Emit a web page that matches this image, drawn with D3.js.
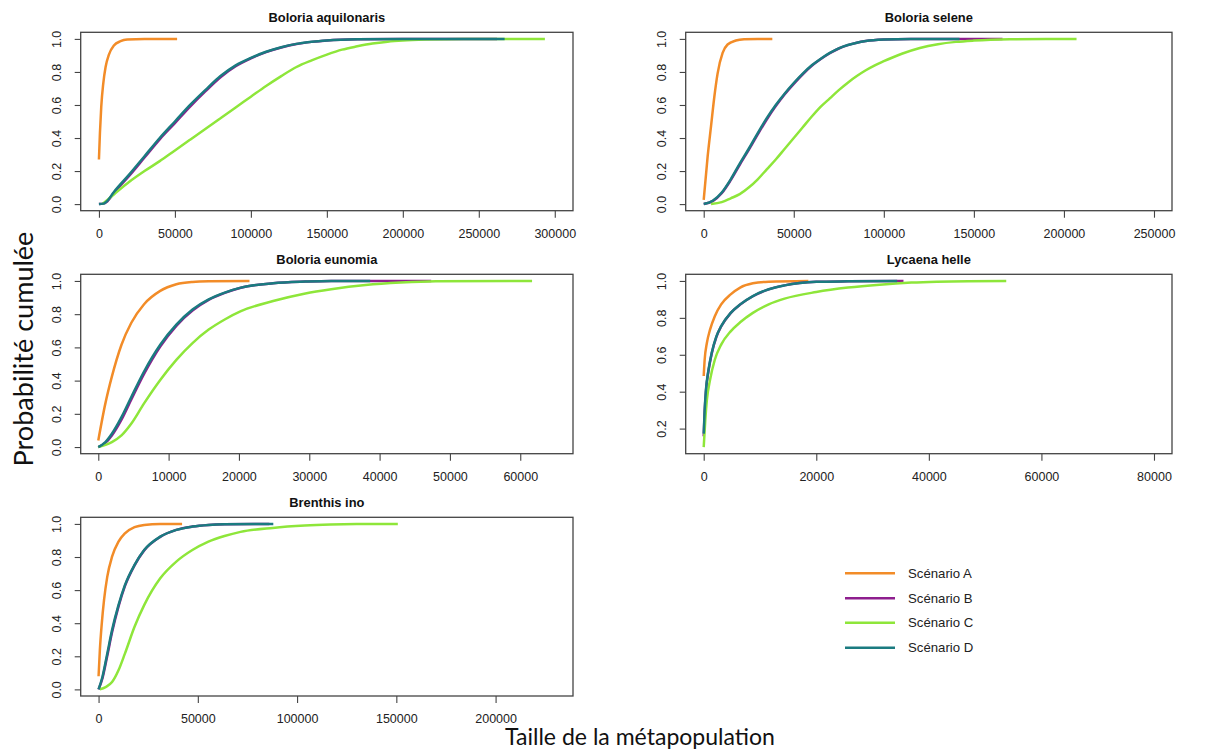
<!DOCTYPE html>
<html><head><meta charset="utf-8">
<script src="https://cdn.jsdelivr.net/npm/d3@7"></script>
<style>body{margin:0;background:#fff}</style>
</head><body><svg id="c" width="1206" height="756"></svg>
<script>
// ---------- data ----------
const species = ["Boloria aquilonaris","Boloria selene","Boloria eunomia","Lycaena helle","Brenthis ino"];
const scenarios = ["Scénario A","Scénario B","Scénario C","Scénario D"];

const xTicks_aquilonaris = [0,50000,100000,150000,200000,250000,300000];
const xTicks_selene = [0,50000,100000,150000,200000,250000];
const xTicks_eunomia = [0,10000,20000,30000,40000,50000,60000];
const xTicks_helle = [0,20000,40000,60000,80000];
const xTicks_ino = [0,50000,100000,150000,200000];
const yTicks_full = [0.0,0.2,0.4,0.6,0.8,1.0];
const yTicks_helle = [0.2,0.4,0.6,0.8,1.0];

// Boloria aquilonaris  [taille, probabilité cumulée]
const aquilonaris_A = [[0,0.27],[657,0.43],[1530,0.59],[2850,0.73],[4380,0.83],[6570,0.905],[9850,0.96],[14230,0.986],[18600,0.996],[30000,1.0],[51450,1.0]];
const aquilonaris_B = [[0,0],[3000,0.003],[5000,0.013],[10000,0.07],[20000,0.172],[30000,0.282],[40000,0.392],[50000,0.49],[60000,0.59],[70000,0.682],[80000,0.768],[90000,0.835],[100000,0.882],[110000,0.92],[120000,0.948],[130000,0.969],[140000,0.982],[150000,0.991],[170000,0.998],[200000,1.0],[262000,1.0]];
const aquilonaris_C = [[2200,0],[10000,0.06],[20000,0.135],[30000,0.2],[40000,0.26],[50000,0.325],[60000,0.39],[70000,0.455],[80000,0.52],[90000,0.585],[100000,0.65],[110000,0.715],[120000,0.775],[130000,0.83],[140000,0.87],[150000,0.905],[160000,0.935],[170000,0.955],[180000,0.972],[190000,0.983],[200000,0.99],[215000,0.996],[240000,1.0],[293500,1.0]];
const aquilonaris_D = [[0,0],[3000,0.003],[5000,0.015],[10000,0.075],[20000,0.18],[30000,0.29],[40000,0.4],[50000,0.5],[60000,0.6],[70000,0.69],[80000,0.775],[90000,0.84],[100000,0.885],[110000,0.922],[120000,0.95],[130000,0.97],[140000,0.983],[150000,0.991],[170000,0.998],[200000,1.0],[267000,1.0]];

// Boloria selene
const selene_A = [[0,0.026],[2200,0.29],[4050,0.47],[5900,0.65],[7700,0.79],[10500,0.915],[13250,0.966],[17850,0.99],[22400,0.998],[30000,1.0],[38100,1.0]];
const selene_B = [[0,0],[5000,0.018],[10000,0.066],[15000,0.145],[20000,0.238],[25000,0.328],[30000,0.422],[35000,0.512],[40000,0.593],[45000,0.665],[50000,0.728],[55000,0.786],[60000,0.837],[65000,0.878],[70000,0.913],[75000,0.942],[80000,0.962],[85000,0.977],[90000,0.987],[100000,0.996],[115000,1.0],[165900,1.0]];
const selene_C = [[4050,0],[10000,0.012],[15000,0.035],[20000,0.06],[25000,0.1],[30000,0.15],[35000,0.21],[40000,0.27],[45000,0.335],[50000,0.4],[55000,0.465],[60000,0.53],[65000,0.59],[70000,0.64],[75000,0.69],[80000,0.735],[85000,0.775],[90000,0.81],[95000,0.84],[100000,0.865],[110000,0.91],[120000,0.945],[130000,0.968],[140000,0.982],[150000,0.99],[170000,0.998],[190000,1.0],[207000,1.0]];
const selene_D = [[0,0],[5000,0.02],[10000,0.07],[15000,0.15],[20000,0.245],[25000,0.335],[30000,0.43],[35000,0.52],[40000,0.6],[45000,0.67],[50000,0.733],[55000,0.79],[60000,0.84],[65000,0.88],[70000,0.915],[75000,0.943],[80000,0.963],[85000,0.977],[90000,0.987],[100000,0.996],[115000,1.0],[142000,1.0]];

// Boloria eunomia
const eunomia_A = [[0,0.04],[1010,0.263],[1930,0.424],[3300,0.616],[4680,0.747],[6510,0.86],[8810,0.94],[11100,0.98],[13400,0.994],[15700,0.998],[21500,1.0]];
const eunomia_B = [[0,0],[1010,0.025],[1930,0.07],[3300,0.165],[4680,0.285],[6510,0.44],[8810,0.605],[11100,0.73],[13400,0.822],[15700,0.886],[17980,0.928],[20280,0.959],[24860,0.986],[29450,0.996],[33120,1.0],[47340,1.0]];
const eunomia_C = [[0,0],[1930,0.03],[3300,0.07],[4680,0.14],[6510,0.263],[8810,0.404],[11100,0.525],[13400,0.626],[15700,0.707],[17980,0.768],[20280,0.818],[24860,0.879],[29450,0.925],[33120,0.95],[38000,0.975],[43000,0.99],[48000,0.998],[61680,1.0]];
const eunomia_D = [[0,0],[1010,0.03],[1930,0.08],[3300,0.18],[4680,0.30],[6510,0.455],[8810,0.616],[11100,0.737],[13400,0.828],[15700,0.889],[17980,0.93],[20280,0.96],[24860,0.986],[29450,0.996],[33120,1.0],[38660,1.0]];

// Lycaena helle
const helle_A = [[0,0.485],[169,0.573],[563,0.664],[1127,0.736],[1972,0.809],[3099,0.873],[4789,0.927],[6479,0.964],[8732,0.987],[11549,0.996],[18592,1.0]];
const helle_B = [[0,0.158],[169,0.29],[394,0.4],[845,0.512],[1408,0.604],[2254,0.697],[3099,0.753],[4789,0.826],[6479,0.872],[8732,0.917],[11549,0.954],[14366,0.976],[20000,0.995],[25634,0.998],[35493,1.0]];
const helle_C = [[0,0.1],[282,0.245],[563,0.355],[1127,0.464],[1972,0.573],[3099,0.655],[4789,0.727],[6479,0.776],[8732,0.827],[11549,0.873],[14366,0.904],[20000,0.94],[25634,0.964],[31268,0.98],[36901,0.991],[41408,0.996],[47000,0.999],[53750,1.0]];
const helle_D = [[0,0.173],[169,0.3],[394,0.409],[845,0.518],[1408,0.609],[2254,0.7],[3099,0.755],[4789,0.827],[6479,0.873],[8732,0.918],[11549,0.955],[14366,0.976],[20000,0.995],[25634,0.998],[34366,1.0]];

// Brenthis ino
const ino_A = [[0,0.079],[647,0.236],[1618,0.398],[2751,0.539],[4369,0.68],[6796,0.802],[10032,0.893],[13269,0.943],[18123,0.98],[22977,0.994],[31068,1.0],[42071,1.0]];
const ino_B = [[0,0],[1942,0.066],[4369,0.202],[6796,0.345],[10032,0.5],[13269,0.624],[18123,0.75],[22977,0.84],[31068,0.922],[39159,0.964],[47249,0.984],[55340,0.994],[63430,0.998],[86000,1.0]];
const ino_C = [[600,0],[3560,0.014],[6796,0.044],[10032,0.115],[13269,0.216],[18123,0.378],[22977,0.509],[31068,0.671],[39159,0.772],[47249,0.842],[55340,0.893],[63430,0.927],[71521,0.952],[87702,0.976],[103883,0.99],[116828,0.996],[130000,0.999],[150750,1.0]];
const ino_D = [[0,0],[1942,0.075],[4369,0.216],[6796,0.358],[10032,0.509],[13269,0.63],[18123,0.752],[22977,0.842],[31068,0.923],[39159,0.964],[47249,0.984],[55340,0.994],[63430,0.998],[88026,1.0]];

// ---------- styles / layout ----------
const colors = ["#F28C28","#8E1E8E","#8EE63A","#1A7B80"];
const boxColor = "#444";
const tickFont = "Liberation Sans, Arial, sans-serif";

const panels = [
  {title: species[0], series:[aquilonaris_A,aquilonaris_B,aquilonaris_C,aquilonaris_D], xTicks:xTicks_aquilonaris, yTicks:yTicks_full,
   box:[80.7,573,32.3,210.7], xDom:[-12000,312000], yDom:[-0.04,1.04]},
  {title: species[1], series:[selene_A,selene_B,selene_C,selene_D], xTicks:xTicks_selene, yTicks:yTicks_full,
   box:[685.7,1172,32.3,210.7], xDom:[-10000,260000], yDom:[-0.04,1.04]},
  {title: species[2], series:[eunomia_A,eunomia_B,eunomia_C,eunomia_D], xTicks:xTicks_eunomia, yTicks:yTicks_full,
   box:[80.7,573,274.3,453.7], xDom:[-2500,67500], yDom:[-0.04,1.04]},
  {title: species[3], series:[helle_A,helle_B,helle_C,helle_D], xTicks:xTicks_helle, yTicks:yTicks_helle,
   box:[685.7,1172,274.3,453.7], xDom:[-3200,83200], yDom:[0.064,1.036]},
  {title: species[4], series:[ino_A,ino_B,ino_C,ino_D], xTicks:xTicks_ino, yTicks:yTicks_full,
   box:[80.7,573,517.3,696], xDom:[-9000,239000], yDom:[-0.04,1.04]}
];

const svg = d3.select("#c");
svg.append("rect").attr("width",1206).attr("height",756).attr("fill","#fff");

panels.forEach(p => {
  const [x0,x1,y0,y1] = p.box;
  const x = d3.scaleLinear().domain(p.xDom).range([x0,x1]);
  const y = d3.scaleLinear().domain(p.yDom).range([y1,y0]);
  const g = svg.append("g");

  const clipId = "clip"+p.title.replace(/\s/g,"");
  svg.append("clipPath").attr("id",clipId).append("rect")
    .attr("x",x0).attr("y",y0).attr("width",x1-x0).attr("height",y1-y0);
  const line = d3.line().x(d=>x(d[0])).y(d=>y(d[1])).curve(d3.curveMonotoneX);
  p.series.forEach((s,i)=>{
    g.append("path").attr("d",line(s)).attr("fill","none")
      .attr("stroke",colors[i]).attr("stroke-width",2.5)
      .attr("stroke-linejoin","round").attr("stroke-linecap","butt")
      .attr("clip-path",`url(#${clipId})`);
  });

  g.append("rect").attr("x",x0).attr("y",y0).attr("width",x1-x0).attr("height",y1-y0)
    .attr("fill","none").attr("stroke",boxColor).attr("stroke-width",1.3);

  const xa = g.append("g").attr("transform",`translate(0,${y1})`)
    .call(d3.axisBottom(x).tickValues(p.xTicks).tickSize(7).tickFormat(d3.format("d")));
  xa.select(".domain").remove();
  xa.selectAll("line").attr("stroke",boxColor).attr("stroke-width",1.1);
  xa.selectAll("text").attr("y",23).attr("dy","0.35em")
    .attr("font-family",tickFont).attr("font-size",12.5).attr("fill","#222");

  const ya = g.append("g").attr("transform",`translate(${x0},0)`)
    .call(d3.axisLeft(y).tickValues(p.yTicks).tickSize(6).tickFormat(d3.format(".1f")));
  ya.select(".domain").remove();
  ya.selectAll("line").attr("stroke",boxColor).attr("stroke-width",1.1);
  ya.selectAll("text").attr("x",null).attr("dy",null)
    .attr("transform","translate(-20,0) rotate(-90)")
    .attr("text-anchor","middle")
    .attr("font-family",tickFont).attr("font-size",12.5).attr("fill","#222");

  g.append("text").attr("x",(x0+x1)/2).attr("y",y0-15).attr("dy","0.35em")
    .attr("text-anchor","middle").attr("font-family",tickFont)
    .attr("font-weight","bold").attr("font-size",12.9).attr("fill","#111").text(p.title);
});

// legend
const legY = [573.3,598.3,622.7,647.7];
scenarios.forEach((s,i)=>{
  svg.append("line").attr("x1",845).attr("x2",895).attr("y1",legY[i]).attr("y2",legY[i])
    .attr("stroke",colors[i]).attr("stroke-width",2.5);
  svg.append("text").attr("x",908).attr("y",legY[i]).attr("dy","0.35em")
    .attr("font-family",tickFont).attr("font-size",13.2).attr("fill","#222").text(s);
});

// global axis labels
function fit(t, target){
  const w = t.node().getComputedTextLength();
  const fs = parseFloat(t.attr("font-size"));
  t.attr("font-size", fs*target/w);
}
const yl = svg.append("text").attr("transform","translate(33,349) rotate(-90)")
  .attr("text-anchor","middle").attr("font-family","Lato, Open Sans, sans-serif")
  .attr("font-size",22).attr("fill","#111").text("Probabilité cumulée");
fit(yl,235);
const xl = svg.append("text").attr("x",640).attr("y",745)
  .attr("text-anchor","middle").attr("font-family","Lato, Open Sans, sans-serif")
  .attr("font-size",22).attr("fill","#111").text("Taille de la métapopulation");
fit(xl,270);
</script>
</body></html>
